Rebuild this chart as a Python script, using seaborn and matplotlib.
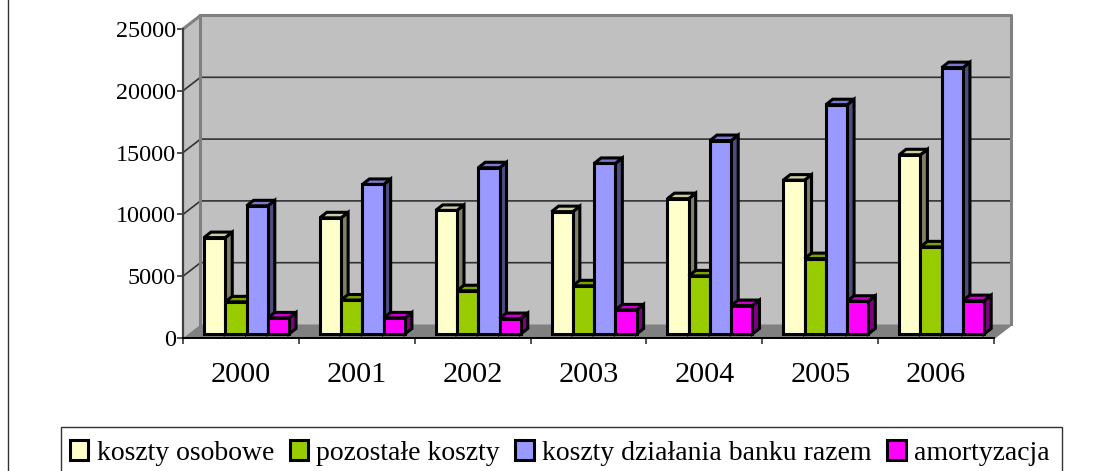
import matplotlib
matplotlib.use('Agg')
import matplotlib.pyplot as plt
import pandas as pd
import seaborn as sns
from matplotlib.patches import Polygon, Rectangle
from matplotlib.lines import Line2D

years = ['2000', '2001', '2002', '2003', '2004', '2005', '2006']
koszty_osobowe = [7800, 9400, 10000, 9900, 10950, 12450, 14500]
pozostale_koszty = [2600, 2750, 3500, 3900, 4700, 6100, 7050]
koszty_dzialania = [10370, 12100, 13450, 13800, 15650, 18550, 21550]
amortyzacja = [1300, 1300, 1250, 1950, 2300, 2650, 2700]

series_names = ['koszty osobowe', 'pozostałe koszty', 'koszty działania banku razem', 'amortyzacja']
series_values = [koszty_osobowe, pozostale_koszty, koszty_dzialania, amortyzacja]
front_colors = ['#FFFFCC', '#99CC00', '#9999FF', '#FF00FF']
top_colors = ['#CCCCA3', '#7AA300', '#7A7ACC', '#CC00CC']
side_colors = ['#808066', '#4D6600', '#4D4D80', '#800080']

W, H = 1104, 471
Y_TICKS = [0, 5000, 10000, 15000, 20000, 25000]

# long table for seaborn
df = pd.DataFrame({
    'year': years * 4,
    'series': [n for n in series_names for _ in years],
    'value': [v for vals in series_values for v in vals],
})

plt.rcParams['font.family'] = ['Liberation Serif', 'DejaVu Serif']
fig = plt.figure(figsize=(W / 100, H / 100), dpi=100)

# axes = front plane of the 3D box
left, right, top, bottom = 183, 994, 29, 338
ax = fig.add_axes([left / W, 1 - bottom / H, (right - left) / W, (bottom - top) / H])
ax.patch.set_visible(False)

sns.barplot(data=df, x='year', y='value', hue='series', hue_order=series_names,
            palette=front_colors, saturation=1, width=0.734, gap=0,
            edgecolor='black', linewidth=2.2, legend=False, ax=ax, zorder=5)
ax.set_xlim(-0.5, 6.5)
ax.set_ylim(0, 25000)

px_x = 7 / (right - left)      # one pixel in data units
px_y = 25000 / (bottom - top)

# box walls
x0, x1 = -0.5, 6.5
y1 = 25000
dx, dy = 17.5 * px_x, 13.5 * px_y
clip = dict(clip_on=False)

ax.add_patch(Polygon([(x0, 0), (x0 + dx, dy), (x0 + dx, y1 + dy), (x0, y1)],
                     fc='#C0C0C0', ec='none', zorder=1, **clip))
ax.add_patch(Polygon([(x0 + dx, dy), (x1 + dx, dy), (x1 + dx, y1 + dy), (x0 + dx, y1 + dy)],
                     fc='#C0C0C0', ec='none', zorder=1, **clip))
ax.add_patch(Polygon([(x0, 0), (x1, 0), (x1 + dx, dy), (x0 + dx, dy)],
                     fc='#808080', ec='none', zorder=1, **clip))

for t in Y_TICKS[1:-1]:
    ax.add_line(Line2D([x0, x0 + dx, x1 + dx], [t, t + dy, t + dy], color='#333333', lw=1.2, zorder=2, **clip))
ax.add_line(Line2D([x0 + dx, x0 + dx], [dy, y1 + dy], color='#808080', lw=2.2, zorder=2, **clip))
ax.add_line(Line2D([x0, x0 + dx, x1 + dx, x1 + dx], [y1, y1 + dy, y1 + dy, dy], color='#808080', lw=2.2, zorder=2, **clip))
ax.add_line(Line2D([x1, x1 + dx], [0, dy], color='#808080', lw=1.5, zorder=2, **clip))
ax.add_line(Line2D([x0, x0], [0, y1], color='#404040', lw=1.6, zorder=3, **clip))
ax.add_line(Line2D([x0, x1], [0, 0], color='black', lw=1.4, zorder=3, **clip))

# bars stand a little behind the front plane; add their side and top faces
shift_x, shift_y = 5.6 * px_x, 4 * px_y
depth_x, depth_y = 7 * px_x, 5.5 * px_y
for k, container in enumerate(ax.containers):
    for j, bar in enumerate(container):
        bx = bar.get_x() + shift_x
        bw = bar.get_width()
        ytop = bar.get_height() + shift_y
        z = 5 + j * 0.1 + k * 0.01
        ax.add_patch(Polygon([(bx + bw, shift_y), (bx + bw + depth_x, shift_y + depth_y),
                              (bx + bw + depth_x, ytop + depth_y), (bx + bw, ytop)],
                             fc=side_colors[k], ec='black', lw=2.2, zorder=z, **clip))
        ax.add_patch(Polygon([(bx, ytop), (bx + depth_x, ytop + depth_y),
                              (bx + bw + depth_x, ytop + depth_y), (bx + bw, ytop)],
                             fc=top_colors[k], ec='black', lw=2.2, zorder=z, **clip))
        bar.set_x(bx)
        bar.set_y(shift_y)
        bar.set_clip_on(False)
        bar.set_zorder(z + 0.001)

for s in ax.spines.values():
    s.set_visible(False)
ax.set_xlabel('')
ax.set_ylabel('')
ax.set_yticks(Y_TICKS)
ax.tick_params(axis='y', length=4.3, width=1.2, color='#333333', labelsize=17.4, pad=0.7)
ax.set_xticks([i - 0.5 for i in range(8)])
ax.set_xticklabels([])
ax.tick_params(axis='x', length=4.3, width=1.2, color='#333333')
for i, y in enumerate(years):
    ax.annotate(y, (i, 0), xytext=(0, -27), textcoords='offset points', ha='center', va='center',
                fontsize=21.8, annotation_clip=False)

# outer chart border and legend box (runs past the bottom of the picture)
fig.add_artist(Line2D([7.5 / W, 7.5 / W], [0, 1], color='#333333', lw=1))
fig.add_artist(Rectangle((60.5 / W, -5 / H), 1001 / W, (H - 426.5 + 5) / H, fc='white', ec='#333333', lw=1))
handles = [Rectangle((0, 0), 1, 1, fc=c, ec='black', lw=2.2) for c in front_colors]
leg = fig.legend(handles, series_names, loc='upper left',
                 bbox_to_anchor=(70 / W, 1 - 440 / H), ncol=4,
                 fontsize=20, frameon=False,
                 handlelength=0.66, handleheight=0.72, handletextpad=0.3, columnspacing=0.56,
                 borderpad=0, borderaxespad=0)

fig.savefig('out.png', dpi=100)
